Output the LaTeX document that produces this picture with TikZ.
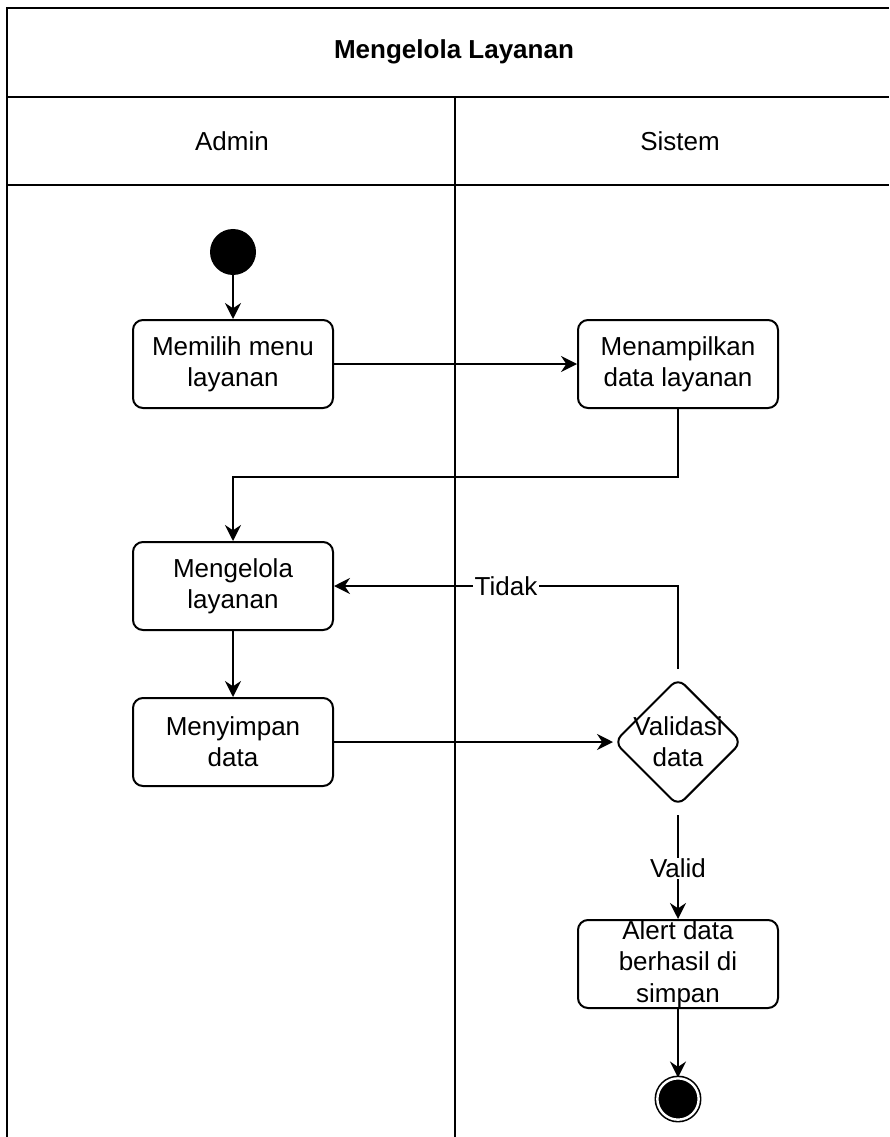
\documentclass[tikz,border=0pt]{standalone}
\usepackage{fontspec}
\setmainfont{Liberation Sans}
\usetikzlibrary{arrows.meta,shapes.geometric}

\begin{document}
\begin{tikzpicture}[
    x=0.75pt, y=-0.75pt,
    font=\fontsize{19.5}{23.5}\selectfont,
    lane/.style={line width=1.5pt},
    activity/.style={draw, line width=1.5pt, rounded corners=7.5pt,
      minimum width=150pt, minimum height=66pt, inner xsep=2pt, inner ysep=0pt, align=center},
    decision/.style={draw, diamond, line width=1.5pt, rounded corners=7pt,
      minimum width=96pt, minimum height=96pt, inner sep=0pt, align=center},
    initial/.style={circle, fill=black, minimum size=34.5pt, inner sep=0pt},
    final/.style={circle, draw, fill=black, double=white, double distance=1.8pt,
      line width=1.2pt, minimum size=31pt, inner sep=0pt},
    flow/.style={line width=1.5pt, -{Stealth[length=12pt, width=12pt, inset=4pt]}},
    guard/.style={fill=white, inner sep=1pt}
  ]
    \useasboundingbox (0,0) rectangle (889,1137);

    \draw[lane] (889,8) -- (7,8) -- (7,1137);
    \draw[lane] (7,97) -- (889,97);
    \draw[lane] (7,185) -- (889,185);
    \draw[lane] (455,97) -- (455,1137);

    \node (title)  at (454,52)  {\bfseries Mengelola Layanan};
    \node (admin)  at (232,141) {Admin};
    \node (sistem) at (680,141) {Sistem};

    \node[initial]  (start)  at (233,252)  {};
    \node[activity] (pilih)  at (233,364)  {Memilih menu\\layanan};
    \node[activity] (tampil) at (678,364)  {Menampilkan\\data layanan};
    \node[activity] (kelola) at (233,586)  {Mengelola\\layanan};
    \node[activity] (simpan) at (233,742)  {Menyimpan\\data};
    \node[decision] (valid)  at (678,742)  {\makebox[0pt]{Validasi}\\\makebox[0pt]{data}};
    \node[activity] (alert)  at (678,964)  {Alert data\\berhasil di\\simpan};
    \node[final]    (stop)   at (678,1099) {};

    \draw[flow] (start) -- (pilih);
    \draw[flow] (pilih) -- (tampil);
    \draw[flow] (tampil.south) -- ++(0,68) -| (kelola.north);
    \draw[flow, shorten <=6pt] (valid.north) |- node[guard, pos=0.75] {Tidak} (kelola.east);
    \draw[flow] (kelola) -- (simpan);
    \draw[flow] (simpan) -- (valid);
    \draw[flow, shorten <=6pt] (valid) -- node[guard, pos=0.55] {Valid} (alert);
    \draw[flow] (alert) -- (stop);
\end{tikzpicture}
\end{document}
